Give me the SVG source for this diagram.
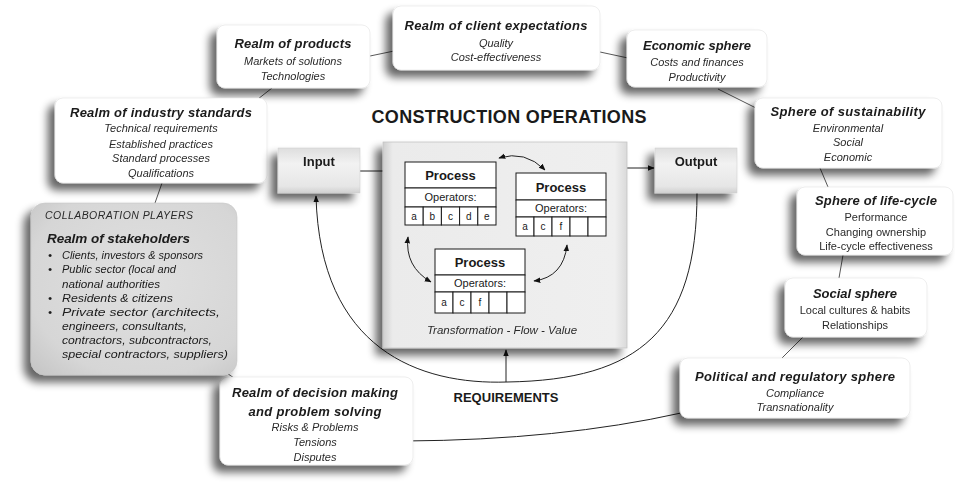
<svg xmlns="http://www.w3.org/2000/svg" width="955" height="483" viewBox="0 0 955 483">
  <defs>
    <style>
      text { font-family: "Liberation Sans", Arial, sans-serif; fill: #1a1a1a; }
      .title { font-size: 13px; font-weight: bold; font-style: italic; text-anchor: middle; }
      .sub { font-size: 11px; font-style: italic; text-anchor: middle; fill: #2a2a2a; }
      .subr { font-size: 11px; text-anchor: middle; fill: #2a2a2a; }
      .card { fill: #ffffff; stroke: #e2e2e2; stroke-width: 0.6; }
      .bold { font-weight: bold; text-anchor: middle; }
      .list { font-size: 11.5px; font-style: italic; fill: #2a2a2a; }
      .cell { fill: #ffffff; stroke: #1a1a1a; stroke-width: 1; }
      .pt { font-size: 13px; font-weight: bold; text-anchor: middle; }
      .op { font-size: 11px; text-anchor: middle; }
      .lt { font-size: 10px; text-anchor: middle; }
      .link { fill: none; stroke: #444; stroke-width: 0.9; }
      .flow { fill: none; stroke: #222; stroke-width: 1; }
    </style>
    <filter id="shadow" x="-20%" y="-25%" width="140%" height="160%">
      <feGaussianBlur in="SourceAlpha" stdDeviation="4.5"/>
      <feOffset dx="-7" dy="7" result="off"/>
      <feComponentTransfer><feFuncA type="linear" slope="0.6"/></feComponentTransfer>
      <feMerge><feMergeNode/><feMergeNode in="SourceGraphic"/></feMerge>
    </filter>
    <radialGradient id="stakeFill" cx="55%" cy="45%" r="75%">
      <stop offset="0" stop-color="#e0e0e0"/>
      <stop offset="0.75" stop-color="#d6d6d6"/>
      <stop offset="1" stop-color="#c6c6c6"/>
    </radialGradient>
    <linearGradient id="opsFill" x1="0" y1="0" x2="1" y2="0">
      <stop offset="0" stop-color="#cfcfcf"/>
      <stop offset="0.04" stop-color="#ebebeb"/>
      <stop offset="0.95" stop-color="#efefef"/>
      <stop offset="1" stop-color="#dadada"/>
    </linearGradient>
    <linearGradient id="ioFill" x1="0" y1="0" x2="0" y2="1">
      <stop offset="0" stop-color="#dedede"/>
      <stop offset="0.35" stop-color="#f2f2f2"/>
      <stop offset="0.85" stop-color="#e6e6e6"/>
      <stop offset="1" stop-color="#d0d0d0"/>
    </linearGradient>
    <marker id="tip" viewBox="0 0 10 10" refX="9" refY="5" markerWidth="7" markerHeight="7" orient="auto-start-reverse" markerUnits="userSpaceOnUse">
      <path d="M0,1 L10,5 L0,9 Z" fill="#111"/>
    </marker>
  </defs>

  <rect width="955" height="483" fill="#ffffff"/>

  <!-- connectors -->
  <g id="connectors">
    <path class="link" d="M258,99 L272,88"/>
    <path class="link" d="M370,56 L394,51"/>
    <path class="link" d="M600,52 L628,58"/>
    <path class="link" d="M718,89 L756,108"/>
    <path class="link" d="M820,168 L828,187"/>
    <path class="link" d="M843,255 L839,278"/>
    <path class="link" d="M803,337 L782,358"/>
    <path class="link" d="M162,183 L155,203"/>
    <path class="link" d="M218,367 L234,378"/>
    <!-- lower sweep between decision making and regulation -->
    <path class="flow" d="M405,441 Q560,440 681,413"/>
    <!-- feedback loop from output back to input -->
    <path class="flow" d="M697,193 C697,330 640,380 507,382 C420,385 320,350 316,196" marker-end="url(#tip)"/>
    <!-- requirements into operations -->
    <path class="flow" d="M506,382 L506,350" marker-end="url(#tip)"/>
    <!-- input / output -->
    <path class="flow" d="M360,171 L396,171" marker-end="url(#tip)"/>
    <path class="flow" d="M619,168 L654,168" marker-end="url(#tip)"/>
  </g>

  <!-- outer spheres and realms -->
  <g id="realm-products" filter="url(#shadow)">
    <rect class="card" x="217" y="25" width="153" height="63" rx="8"/>
    <text class="title" x="293" y="48" textLength="117">Realm of products</text>
    <text class="sub" x="293" y="65">Markets of solutions</text>
    <text class="sub" x="293" y="80">Technologies</text>
  </g>

  <g id="realm-client" filter="url(#shadow)">
    <rect class="card" x="393" y="6" width="207" height="64" rx="8"/>
    <text class="title" x="496" y="30" textLength="183">Realm of client expectations</text>
    <text class="sub" x="496" y="47">Quality</text>
    <text class="sub" x="496" y="61">Cost-effectiveness</text>
  </g>

  <g id="economic" filter="url(#shadow)">
    <rect class="card" x="627" y="30" width="140" height="57" rx="8"/>
    <text class="title" x="697" y="50" textLength="108">Economic sphere</text>
    <text class="sub" x="697" y="66">Costs and finances</text>
    <text class="sub" x="697" y="81">Productivity</text>
  </g>

  <g id="sustainability" filter="url(#shadow)">
    <rect class="card" x="755" y="98" width="187" height="70" rx="8"/>
    <text class="title" x="848" y="116" textLength="155">Sphere of sustainability</text>
    <text class="sub" x="848" y="132">Environmental</text>
    <text class="sub" x="848" y="146">Social</text>
    <text class="sub" x="848" y="161">Economic</text>
  </g>

  <g id="life-cycle" filter="url(#shadow)">
    <rect class="card" x="797" y="187" width="156" height="68" rx="8"/>
    <text class="title" x="876" y="205" textLength="122">Sphere of life-cycle</text>
    <text class="subr" x="876" y="221">Performance</text>
    <text class="subr" x="876" y="236">Changing ownership</text>
    <text class="subr" x="876" y="250">Life-cycle effectiveness</text>
  </g>

  <g id="social" filter="url(#shadow)">
    <rect class="card" x="785" y="278" width="142" height="59" rx="8"/>
    <text class="title" x="855" y="298" textLength="84">Social sphere</text>
    <text class="subr" x="855" y="314">Local cultures &amp; habits</text>
    <text class="subr" x="855" y="329">Relationships</text>
  </g>

  <g id="political" filter="url(#shadow)">
    <rect class="card" x="680" y="358" width="230" height="60" rx="8"/>
    <text class="title" x="795" y="381" textLength="200">Political and regulatory sphere</text>
    <text class="sub" x="795" y="397">Compliance</text>
    <text class="sub" x="795" y="411">Transnationality</text>
  </g>

  <g id="decision" filter="url(#shadow)">
    <rect class="card" x="220" y="377" width="193" height="88" rx="8"/>
    <text class="title" x="315" y="397" textLength="166">Realm of decision making</text>
    <text class="title" x="315" y="416" textLength="133">and problem solving</text>
    <text class="sub" x="315" y="431">Risks &amp; Problems</text>
    <text class="sub" x="315" y="446">Tensions</text>
    <text class="sub" x="315" y="461">Disputes</text>
  </g>

  <g id="industry-standards" filter="url(#shadow)">
    <rect class="card" x="55" y="98" width="212" height="85" rx="8"/>
    <text class="title" x="161" y="117" textLength="182">Realm of industry standards</text>
    <text class="sub" x="161" y="132">Technical requirements</text>
    <text class="sub" x="161" y="148">Established practices</text>
    <text class="sub" x="161" y="162">Standard processes</text>
    <text class="sub" x="161" y="177">Qualifications</text>
  </g>

  <g id="stakeholders" filter="url(#shadow)">
    <rect x="31" y="203" width="206" height="172" rx="14" fill="url(#stakeFill)" stroke="#c8c8c8" stroke-width="0.6"/>
    <text class="list" x="45" y="219" style="font-size:10.5px" textLength="148">COLLABORATION PLAYERS</text>
    <text class="title" x="47" y="243" style="text-anchor:start;font-size:13.5px" textLength="143">Realm of stakeholders</text>
    <g class="list">
      <text x="48" y="259">•</text>
      <text x="62" y="259" textLength="141" lengthAdjust="spacingAndGlyphs">Clients, investors &amp; sponsors</text>
      <text x="48" y="273">•</text>
      <text x="62" y="273" textLength="114" lengthAdjust="spacingAndGlyphs">Public sector (local and</text>
      <text x="62" y="288" textLength="98" lengthAdjust="spacingAndGlyphs">national authorities</text>
      <text x="48" y="302">•</text>
      <text x="62" y="302" textLength="111" lengthAdjust="spacingAndGlyphs">Residents  &amp; citizens</text>
      <text x="48" y="316">•</text>
      <text x="62" y="316" textLength="158" lengthAdjust="spacingAndGlyphs">Private sector (architects,</text>
      <text x="62" y="330" textLength="125" lengthAdjust="spacingAndGlyphs">engineers, consultants,</text>
      <text x="62" y="344" textLength="150" lengthAdjust="spacingAndGlyphs">contractors, subcontractors,</text>
      <text x="62" y="358" textLength="166" lengthAdjust="spacingAndGlyphs">special contractors, suppliers)</text>
    </g>
  </g>

  <!-- core operations block -->
  <text class="bold" x="509" y="123" style="font-size:18px" textLength="275">CONSTRUCTION OPERATIONS</text>

  <g id="input" filter="url(#shadow)">
    <rect x="278" y="148" width="82" height="45" fill="url(#ioFill)" stroke="#d0d0d0" stroke-width="0.6"/>
    <text class="bold" x="319" y="166" style="font-size:13px">Input</text>
  </g>

  <g id="output" filter="url(#shadow)">
    <rect x="655" y="148" width="82" height="45" fill="url(#ioFill)" stroke="#d0d0d0" stroke-width="0.6"/>
    <text class="bold" x="696" y="166" style="font-size:13px">Output</text>
  </g>

  <g id="operations" filter="url(#shadow)">
    <rect x="383" y="142" width="244" height="206" fill="url(#opsFill)" stroke="#c4c4c4" stroke-width="0.8"/>
    <text class="sub" x="502" y="334" style="font-size:11.5px">Transformation - Flow - Value</text>
  </g>

  <g id="process-1">
    <rect class="cell" x="405" y="162" width="91" height="26"/>
    <rect class="cell" x="405" y="188" width="91" height="19"/>
    <rect class="cell" x="405" y="207" width="18.2" height="18"/>
    <rect class="cell" x="423.2" y="207" width="18.2" height="18"/>
    <rect class="cell" x="441.4" y="207" width="18.2" height="18"/>
    <rect class="cell" x="459.6" y="207" width="18.2" height="18"/>
    <rect class="cell" x="477.8" y="207" width="18.2" height="18"/>
    <text class="pt" x="450.5" y="180">Process</text>
    <text class="op" x="450.5" y="201">Operators:</text>
    <text class="lt" x="414.1" y="220">a</text>
    <text class="lt" x="432.3" y="220">b</text>
    <text class="lt" x="450.5" y="220">c</text>
    <text class="lt" x="468.7" y="220">d</text>
    <text class="lt" x="486.9" y="220">e</text>
  </g>

  <g id="process-2">
    <rect class="cell" x="516" y="173" width="90" height="27"/>
    <rect class="cell" x="516" y="200" width="90" height="17"/>
    <rect class="cell" x="516" y="217" width="18" height="19"/>
    <rect class="cell" x="534" y="217" width="18" height="19"/>
    <rect class="cell" x="552" y="217" width="18" height="19"/>
    <rect class="cell" x="570" y="217" width="18" height="19"/>
    <rect class="cell" x="588" y="217" width="18" height="19"/>
    <text class="pt" x="561" y="192">Process</text>
    <text class="op" x="561" y="212">Operators:</text>
    <text class="lt" x="525" y="230">a</text>
    <text class="lt" x="543" y="230">c</text>
    <text class="lt" x="561" y="230">f</text>
  </g>

  <g id="process-3">
    <rect class="cell" x="435" y="249" width="90" height="26"/>
    <rect class="cell" x="435" y="275" width="90" height="17"/>
    <rect class="cell" x="435" y="292" width="18" height="21"/>
    <rect class="cell" x="453" y="292" width="18" height="21"/>
    <rect class="cell" x="471" y="292" width="18" height="21"/>
    <rect class="cell" x="489" y="292" width="18" height="21"/>
    <rect class="cell" x="507" y="292" width="18" height="21"/>
    <text class="pt" x="480" y="267">Process</text>
    <text class="op" x="480" y="287">Operators:</text>
    <text class="lt" x="444" y="306">a</text>
    <text class="lt" x="462" y="306">c</text>
    <text class="lt" x="480" y="306">f</text>
  </g>

  <!-- exchanges between processes -->
  <g id="process-links">
    <path class="flow" d="M499,158 Q525,150 545,170" marker-start="url(#tip)" marker-end="url(#tip)"/>
    <path class="flow" d="M408,237 Q404.5,266.5 431,282" marker-start="url(#tip)" marker-end="url(#tip)"/>
    <path class="flow" d="M567,245 Q563.5,277 534,281" marker-start="url(#tip)" marker-end="url(#tip)"/>
  </g>

  <text class="bold" x="506" y="402" style="font-size:13px" textLength="105">REQUIREMENTS</text>
</svg>
